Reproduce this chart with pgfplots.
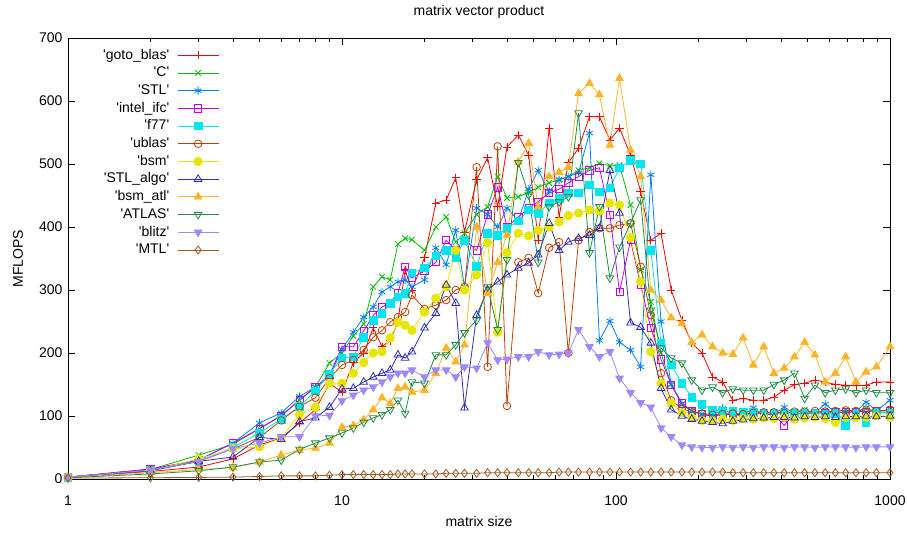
\documentclass[border=0pt]{standalone}
\usepackage{pgfplots}
\usepackage{pgfplotstable}
\usepackage{fontspec}
\pgfplotsset{compat=1.18}
\newfontfamily\lsans{Liberation Sans}
\definecolor{cgoto}{HTML}{FF0000}
\definecolor{cC}{HTML}{00C000}
\definecolor{cSTL}{HTML}{0080FF}
\definecolor{cintel}{HTML}{C000FF}
\definecolor{cf77}{HTML}{00E5EE}
\definecolor{cublas}{HTML}{C04000}
\definecolor{cbsm}{HTML}{E6E600}
\definecolor{calgo}{HTML}{2E2EB8}
\definecolor{catl}{HTML}{FFB428}
\definecolor{cATLAS}{HTML}{228B45}
\definecolor{cblitz}{HTML}{9F88FF}
\definecolor{cMTL}{HTML}{A05A1E}

\pgfplotstableread{
x goto C STL intel f77 ublas bsm algo atl ATLAS blitz MTL
1 3 3 3 3 3 3 3 3 2 2 3 1.5
2 12 15 15 16 14 14 13 13 10 8 14 2
3 19 38 30 30 28 28 32 28 15 13 28 2.5
4 32 55 57 57 50 48 48 35 18 19 48 3
5 54 80 89 80 73 66 51 66 27 27 57 4
6 65 101 105 100 95 93 65 63 38 30 67 5
7 89 125 131 125 115 115 102 91 46 47 67 5
8 110 146 146 146 140 129 114 97 49 57 100 5
9 152 184 162 165 167 160 152 114 57 65 101 6
10 138 200 206 210 192 181 152 143 82 73 124 7
11 185 227 233 210 194 189 168 144 85 81 133 7
12 200 246 257 235 225 205 185 154 94 90 141 7
13 240 305 273 260 252 225 200 162 110 97 146 7
14 210 321 297 273 263 236 202 168 129 102 154 7
15 220 316 305 280 279 249 224 173 120 110 162 7
16 250 373 313 295 289 257 249 197 144 125 168 8
17 332 382 316 337 295 265 244 192 146 104 168 8
18 300 380 305 319 327 292 236 202 138 154 173 8
20 351 363 316 330 335 270 265 240 141 152 162 8
22 438 400 367 344 354 276 287 263 168 197 173 8
24 443 416 340 379 363 284 305 308 208 197 173 9
26 478 376 395 363 352 300 363 279 186 213 162 9
28 392 390 305 380 379 305 300 113 213 232 178 9
31 475 420 430 363 337 495 324 260 400 252 176 9
34 510 432 420 420 390 178 375 300 295 305 216 10
37 432 480 400 463 387 528 233 313 344 237 189 10
40 527 446 430 400 398 116 359 324 387 348 190 10
44 546 448 410 416 410 344 390 335 503 502 194 10
48 514 455 460 430 427 351 386 343 533 451 194 10
52 379 463 490 440 422 295 395 356 432 344 202 10
57 557 470 456 454 438 367 400 406 480 432 197 10
62 416 475 475 460 445 376 408 363 487 440 198 11
67 502 480 480 470 454 200 418 376 495 448 200 11
73 525 490 486 480 454 379 422 382 612 581 237 11
80 575 494 549 490 467 392 427 387 628 359 210 11
87 575 501 220 494 456 398 425 398 610 432 194 11
95 538 497 251 419 462 398 438 490 530 319 202 11
103 557 498 217 297 494 403 435 422 636 368 160 11
113 514 435 205 379 506 406 383 248 522 406 137 11
123 456 332 178 308 500 337 313 241 480 443 121 11
134 379 281 483 240 363 260 202 216 300 268 114 11
146 390 200 250 190 216 168 152 144 284 208 81 11
159 300 150 150 150 181 125 120 110 256 192 67 11
174 252 118 120 120 152 112 105 100 247 184 54 11
189 216 108 108 108 130 106 97 95 217 157 51 11
206 200 103 102 103 118 104 93 92 229 141 50 11
225 162 100 100 100 110 102 92 90 210 146 50 11
245 154 103 112 102 108 103 95 88 200 137 51 11
267 125 102 102 103 107 104 93 92 198 143 50 10
291 128 104 100 102 106 103 96 94 224 141 51 10
317 125 103 113 104 106 105 95 96 181 141 50 10
346 125 106 102 103 105 106 97 97 210 141 51 10
377 130 104 103 103 104 106 96 98 168 150 51 10
411 141 105 114 85 105 105 98 98 176 157 50 10
448 150 106 103 104 104 107 95 97 194 168 51 10
488 152 110 104 105 105 107 97 99 217 128 51 10
532 157 105 105 105 104 108 98 98 197 149 50 10
580 154 108 119 105 103 107 96 99 154 137 51 10
632 150 106 105 106 104 108 90 98 168 141 51 10
689 149 110 106 106 85 109 98 99 194 143 51 10
751 148 108 107 107 104 108 97 99 154 137 50 10
818 149 112 122 107 90 110 98 100 170 141 51 10
892 154 107 108 108 106 108 100 99 178 137 51 10
1000 154 110 125 108 105 110 98 100 210 137 51 10
}\data

\begin{document}
\begin{tikzpicture}[font={\lsans\fontsize{14bp}{17bp}\selectfont}]
\useasboundingbox (-68bp,-58bp) rectangle (839bp,479bp);
\begin{axis}[
  at={(0,0)}, anchor=south west,
  scale only axis, width=822bp, height=441bp,
  xmode=log, xmin=1, xmax=1000, ymin=0, ymax=700,
  xtick={1,10,100,1000}, xticklabels={1,10,100,1000},
  minor xtick={2,3,4,5,6,7,8,9,20,30,40,50,60,70,80,90,200,300,400,500,600,700,800,900},
  ytick={0,100,200,300,400,500,600,700},
  tick align=inside, major tick length=7bp, minor tick length=4bp,
  every tick/.style={black, line width=0.7bp},
  axis line style={line width=0.9bp},
  /pgf/number format/assume math mode=true,
  yticklabel style={xshift=-2bp},
  xticklabel style={yshift=-13bp},
  clip=false,
  title={matrix vector product},
  every axis title/.style={at={(0.5,1)}, anchor=center, yshift=26bp},
  xlabel={matrix size},
  every axis x label/.style={at={(0.5,0)}, anchor=center, yshift=-42bp},
  ylabel={MFLOPS},
  every axis y label/.style={at={(0,0.5)}, anchor=center, rotate=90, yshift=50bp},
  legend plot pos=right,
  legend cell align=right,
  legend style={at={(0,1)}, anchor=north east, xshift=151bp, yshift=-10bp,
    draw=none, fill=none, inner sep=0pt, outer sep=0pt,
    row sep=3.2bp, column sep=8bp,
    nodes={inner sep=0pt, text height=11bp, text depth=3.5bp}},
  legend image code/.code={\draw[mark repeat=2, mark phase=2] plot coordinates {(0bp,0bp) (20.5bp,0bp) (41bp,0bp)};},
  every axis plot/.append style={line width=0.8bp, mark size=3.8bp, mark options={solid}},
]
\addplot[color=cgoto, mark=+, mark size=4.2bp] table[x=x,y=goto]{\data};
\addlegendentry{'goto\_blas'}
\addplot[color=cC, mark=x, mark size=4bp] table[x=x,y=C]{\data};
\addlegendentry{'C'}
\addplot[color=cSTL, mark=asterisk, mark size=4bp] table[x=x,y=STL]{\data};
\addlegendentry{'STL'}
\addplot[color=cintel, mark=square, mark size=3.6bp] table[x=x,y=intel]{\data};
\addlegendentry{'intel\_ifc'}
\addplot[color=cf77, mark=square*, mark size=3.8bp] table[x=x,y=f77]{\data};
\addlegendentry{'f77'}
\addplot[color=cublas, mark=o, mark size=3.8bp] table[x=x,y=ublas]{\data};
\addlegendentry{'ublas'}
\addplot[color=cbsm, mark=*, mark size=4.2bp] table[x=x,y=bsm]{\data};
\addlegendentry{'bsm'}
\addplot[color=calgo, mark=triangle, mark size=4.4bp] table[x=x,y=algo]{\data};
\addlegendentry{'STL\_algo'}
\addplot[color=catl, mark=triangle*, mark size=4.4bp] table[x=x,y=atl]{\data};
\addlegendentry{'bsm\_atl'}
\addplot[color=cATLAS, mark=triangle, mark size=4.4bp, mark options={solid, rotate=180}] table[x=x,y=ATLAS]{\data};
\addlegendentry{'ATLAS'}
\addplot[color=cblitz, mark=triangle*, mark size=4.4bp, mark options={solid, rotate=180}] table[x=x,y=blitz]{\data};
\addlegendentry{'blitz'}
\addplot[color=cMTL, mark=diamond, mark size=4bp] table[x=x,y=MTL]{\data};
\addlegendentry{'MTL'}
\end{axis}
\end{tikzpicture}
\end{document}
